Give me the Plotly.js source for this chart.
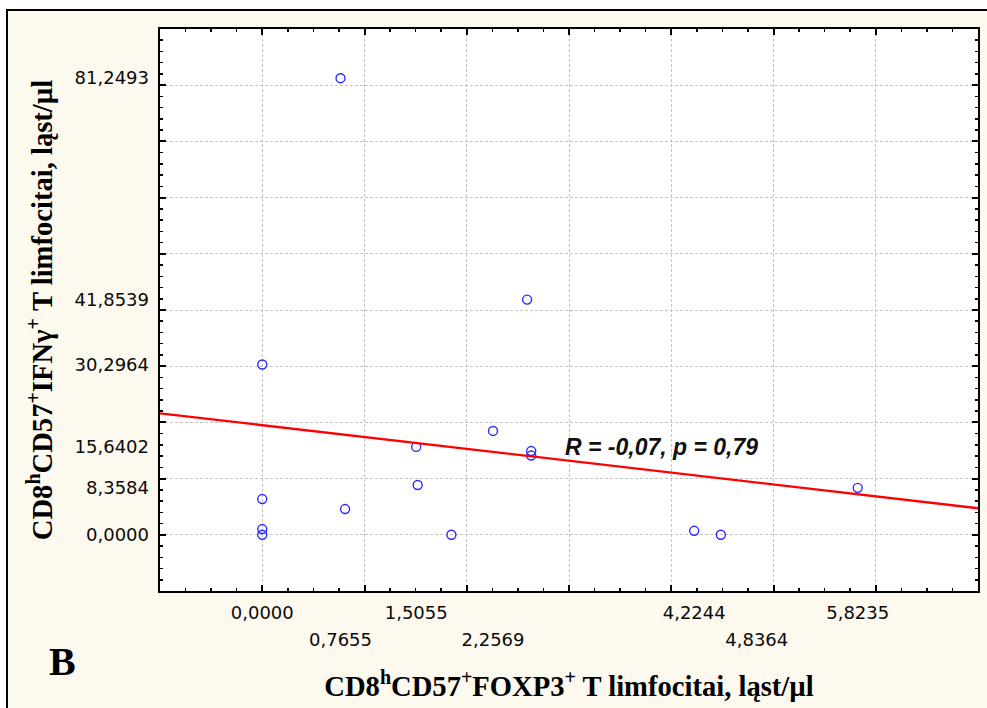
<!DOCTYPE html>
<html><head><meta charset="utf-8">
<script src="https://cdn.plot.ly/plotly-3.0.1.min.js"></script>
<style>
html,body{margin:0;padding:0;background:#fff;width:987px;height:708px;overflow:hidden}
#frame{position:absolute;left:6px;top:9px;width:981px;height:699px;background:#000}
#chart{position:absolute;left:8px;top:11px;width:979px;height:697px}
</style></head><body>
<div id="frame"></div><div id="chart"></div>
<script>
// Data (CD8hCD57+FOXP3+ vs CD8hCD57+IFNγ+, cells/µl)
const foxp3 = [0, 0, 0, 0, 0.7655, 0.81, 1.5055, 1.52, 1.85, 2.2569, 2.59, 2.63, 2.63, 4.2244, 4.485, 5.8235];
const ifng  = [30.2964, 6.36, 1.02, 0, 81.2493, 4.58, 15.6402, 8.86, 0, 18.48, 41.8539, 14.9, 14.1, 0.71, 0, 8.3584];

const xTickRow1 = [0, 1.5055, 4.2244, 5.8235];
const xTickRow2 = [0.7655, 2.2569, 4.8364];
const yTicks = [0, 8.3584, 15.6402, 30.2964, 41.8539, 81.2493];
const fmt = v => v.toFixed(4).replace('.', ',');

const xRange = [-1, 7];
const yRange = [-10, 90];

// least-squares fit from the data
const n = foxp3.length;
const mx = foxp3.reduce((a,b)=>a+b,0)/n;
const my = ifng.reduce((a,b)=>a+b,0)/n;
let sxy = 0, sxx = 0;
for (let i=0;i<n;i++){ sxy += (foxp3[i]-mx)*(ifng[i]-my); sxx += (foxp3[i]-mx)**2; }
const slope = sxy/sxx, icpt = my - slope*mx;
const fitX = xRange.slice();
const fitY = fitX.map(x => icpt + slope*x);

const tickFont = {family:'DejaVu Sans, Arial', size:18, color:'#0a0a0a'};
const titleFont = {family:'Liberation Serif, Times New Roman, serif', size:28.6, color:'#000'};

const traces = [
  {x: fitX, y: fitY, xaxis:'x2', yaxis:'y2', mode:'lines', line:{color:'#ff0000', width:2.3}, hoverinfo:'skip', showlegend:false},
  {x: foxp3, y: ifng, xaxis:'x', yaxis:'y', mode:'markers', type:'scatter',
   marker:{symbol:'circle-open', size:9, color:'#2a2aff', line:{width:1.4, color:'#2a2aff'}}, showlegend:false},
  {x: foxp3, y: ifng, xaxis:'x3', yaxis:'y', mode:'markers', marker:{opacity:0}, hoverinfo:'skip', showlegend:false}
];

const gridAxis = (range, dtick, minorDtick) => ({
  range: range, tick0: 0, dtick: dtick, showgrid: true, gridcolor: '#c4c4c4', griddash: '3px,2px', gridwidth: 1,
  zeroline: false, ticks: 'inside', ticklen: 6, tickwidth: 2, tickcolor: '#000',
  minor: {tick0: 0, dtick: minorDtick, ticks: 'inside', ticklen: 3, tickwidth: 1.5, tickcolor: '#000', showgrid: false},
  showticklabels: false, showline: true, linecolor: '#000', linewidth: 2, mirror: 'ticks'
});

const layout = {
  width: 979, height: 697,
  margin: {l:152, r:9, t:18, b:117},
  paper_bgcolor: '#fdf9ef', plot_bgcolor: '#ffffff',
  showlegend: false,
  xaxis: gridAxis(xRange, 1, 0.25),
  yaxis: gridAxis(yRange, 10, 2),
  xaxis2: {overlaying:'x', anchor:'y', side:'bottom', range:xRange, tickmode:'array',
    tickvals:xTickRow1, ticktext:xTickRow1.map(fmt), ticks:'', showgrid:false, zeroline:false, showline:false,
    tickfont: tickFont, ticklabelstandoff: 9},
  xaxis3: {overlaying:'x', anchor:'y', side:'bottom', range:xRange, tickmode:'array',
    tickvals:xTickRow2, ticktext:xTickRow2.map(fmt), ticks:'', showgrid:false, zeroline:false, showline:false,
    tickfont: tickFont, ticklabelstandoff: 36,
    title:{text:'<b>CD8<sup>h</sup>CD57<sup>+</sup>FOXP3<sup>+</sup> T limfocitai, ląst/µl</b>', font:titleFont, standoff: 26}},
  yaxis2: {overlaying:'y', anchor:'x', side:'left', range:yRange, tickmode:'array',
    tickvals:yTicks, ticktext:yTicks.map(fmt), ticks:'', showgrid:false, zeroline:false, showline:false,
    tickfont: tickFont, ticklabelstandoff: 10,
    title:{text:'<b>CD8<sup>h</sup>CD57<sup>+</sup>IFNγ<sup>+</sup> T limfocitai, ląst/µl</b>', font:titleFont, standoff: 13}},
  annotations: [
    {xref:'x', yref:'y', x:3.9, y:15.7, showarrow:false, xanchor:'center', yanchor:'middle',
     text:'<b><i>R = -0,07, p = 0,79</i></b>', font:{family:'Liberation Sans, Arial', size:23, color:'#111'}},
    {xref:'paper', yref:'paper', x:-0.1186, y:-0.126, showarrow:false, xanchor:'center', yanchor:'middle',
     text:'<b>B</b>', font:{family:'Liberation Serif, Times New Roman, serif', size:40, color:'#000'}}
  ]
};

Plotly.newPlot('chart', traces, layout, {displayModeBar:false, staticPlot:true});
</script></body></html>
